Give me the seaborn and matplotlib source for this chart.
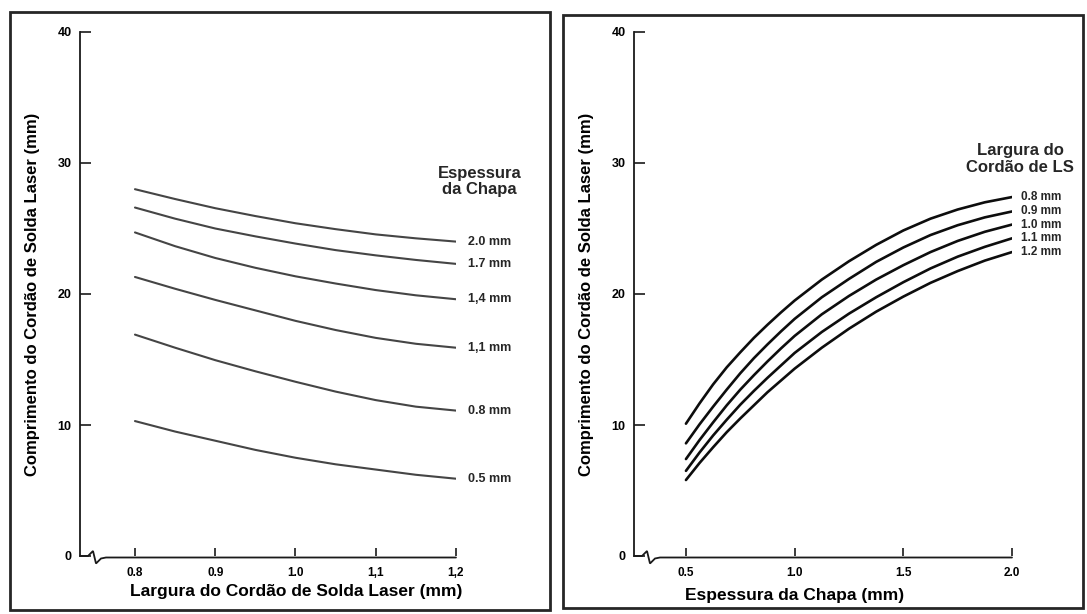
import matplotlib
matplotlib.use("Agg")
import matplotlib.pyplot as plt
import matplotlib.transforms as mtransforms
from matplotlib.lines import Line2D
from matplotlib.patches import Rectangle
import pandas as pd
import seaborn as sns

# ---- Left panel: weld length vs. weld width, one curve per sheet thickness ----
largura = [0.80, 0.85, 0.90, 0.95, 1.00, 1.05, 1.10, 1.15, 1.20]
esp_rotulos = ["2.0 mm", "1.7 mm", "1,4 mm", "1,1 mm", "0.8 mm", "0.5 mm"]
comp_e20 = [28.0, 27.25, 26.55, 25.95, 25.4, 24.95, 24.55, 24.25, 24.0]
comp_e17 = [26.6, 25.75, 25.0, 24.4, 23.85, 23.35, 22.95, 22.6, 22.3]
comp_e14 = [24.7, 23.65, 22.75, 22.0, 21.35, 20.8, 20.3, 19.9, 19.6]
comp_e11 = [21.3, 20.4, 19.55, 18.75, 17.95, 17.25, 16.65, 16.2, 15.9]
comp_e08 = [16.9, 15.9, 14.95, 14.1, 13.3, 12.55, 11.9, 11.4, 11.1]
comp_e05 = [10.3, 9.5, 8.8, 8.1, 7.5, 7.0, 6.6, 6.2, 5.9]
x_ticks_esq = [0.8, 0.9, 1.0, 1.1, 1.2]
x_ticklabels_esq = ["0.8", "0.9", "1.0", "1,1", "1,2"]

# ---- Right panel: weld length vs. sheet thickness, one curve per weld width ----
espessura = [0.5, 0.5625, 0.625, 0.6875, 0.75, 0.8125, 0.875, 0.9375, 1.0,
             1.125, 1.25, 1.375, 1.5, 1.625, 1.75, 1.875, 2.0]
larg_rotulos = ["0.8 mm", "0.9 mm", "1.0 mm", "1.1 mm", "1.2 mm"]
comp_w08 = [10.1, 11.65, 13.1, 14.4, 15.55, 16.65, 17.65, 18.6, 19.5,
            21.1, 22.5, 23.75, 24.85, 25.75, 26.45, 27.0, 27.4]
comp_w09 = [8.6, 10.05, 11.4, 12.7, 13.95, 15.1, 16.15, 17.15, 18.1,
            19.75, 21.15, 22.45, 23.55, 24.5, 25.25, 25.85, 26.3]
comp_w10 = [7.4, 8.85, 10.2, 11.5, 12.7, 13.8, 14.85, 15.85, 16.8,
            18.45, 19.85, 21.1, 22.2, 23.2, 24.05, 24.75, 25.3]
comp_w11 = [6.5, 7.9, 9.2, 10.4, 11.55, 12.6, 13.6, 14.55, 15.5,
            17.1, 18.5, 19.75, 20.9, 21.95, 22.85, 23.6, 24.25]
comp_w12 = [5.8, 7.1, 8.3, 9.45, 10.5, 11.5, 12.5, 13.4, 14.3,
            15.9, 17.35, 18.65, 19.8, 20.85, 21.75, 22.55, 23.2]
x_ticks_dir = [0.5, 1.0, 1.5, 2.0]
x_ticklabels_dir = ["0.5", "1.0", "1.5", "2.0"]

y_ticks = [0, 10, 20, 30, 40]

df_esq = pd.DataFrame({
    "largura": largura * 6,
    "comprimento": comp_e20 + comp_e17 + comp_e14 + comp_e11 + comp_e08 + comp_e05,
    "espessura": [r for r in esp_rotulos for _ in largura],
})
df_dir = pd.DataFrame({
    "espessura": espessura * 5,
    "comprimento": comp_w08 + comp_w09 + comp_w10 + comp_w11 + comp_w12,
    "largura": [r for r in larg_rotulos for _ in espessura],
})

sns.set_style("white")
plt.rcParams["font.family"] = ["Liberation Sans", "DejaVu Sans"]
plt.rcParams["font.weight"] = "bold"
plt.rcParams["axes.labelweight"] = "bold"

W, H = 1087, 614
fig = plt.figure(figsize=(W / 100, H / 100), dpi=100)
ax1 = fig.add_axes([80 / W, 58 / H, 376 / W, 524 / H])
ax2 = fig.add_axes([634 / W, 58 / H, 378 / W, 524 / H])

ink = "#1a1a1a"

sns.lineplot(data=df_esq, x="largura", y="comprimento", hue="espessura",
             palette={r: "#454545" for r in esp_rotulos}, legend=False,
             linewidth=1.5, ax=ax1)
sns.lineplot(data=df_dir, x="espessura", y="comprimento", hue="largura",
             palette={r: "#0d0d0d" for r in larg_rotulos}, legend=False,
             linewidth=1.9, ax=ax2)

ax1.set_xlim(0.7315, 1.2)
ax2.set_xlim(0.261, 2.0)
for ax in (ax1, ax2):
    ax.set_ylim(0, 40)
    ax.set_yticks(y_ticks)
    ax.set_yticklabels([str(v) for v in y_ticks])
    for s in ("top", "right", "bottom"):
        ax.spines[s].set_visible(False)
    ax.spines["left"].set_color(ink)
    ax.spines["left"].set_linewidth(1.3)
    ax.tick_params(axis="y", which="major", left=True, direction="in", length=8,
                   width=1.2, color=ink, pad=6, labelsize=9, labelcolor="black")
    ax.tick_params(axis="x", which="major", bottom=True, direction="in", length=6,
                   width=1.2, color=ink, pad=8, labelsize=8.5, labelcolor="black")
    ax.set_ylabel("Comprimento do Cordão de Solda Laser (mm)", fontsize=12,
                  fontweight="bold", color="black")
    ax.yaxis.set_label_coords(-0.106, 0.5)

ax1.set_xticks(x_ticks_esq)
ax1.set_xticklabels(x_ticklabels_esq)
ax2.set_xticks(x_ticks_dir)
ax2.set_xticklabels(x_ticklabels_dir)

ax1.set_xlabel("Largura do Cordão de Solda Laser (mm)", fontsize=12.5,
               fontweight="bold", color="black")
ax1.xaxis.set_label_coords(0.576, -0.053)
ax2.set_xlabel("Espessura da Chapa (mm)", fontsize=12.5, fontweight="bold",
               color="black")
ax2.xaxis.set_label_coords(0.425, -0.061)

# Curve labels at the right end of each curve
for rot, ys in zip(esp_rotulos, [comp_e20, comp_e17, comp_e14, comp_e11, comp_e08, comp_e05]):
    ax1.annotate(rot, xy=(largura[-1], ys[-1]), xytext=(8.5, 0),
                 textcoords="offset points", va="center", ha="left",
                 fontsize=9, fontweight="bold", annotation_clip=False)
for rot, ys in zip(larg_rotulos, [comp_w08, comp_w09, comp_w10, comp_w11, comp_w12]):
    ax2.annotate(rot, xy=(espessura[-1], ys[-1]), xytext=(6.5, 0),
                 textcoords="offset points", va="center", ha="left",
                 fontsize=8.5, fontweight="bold", annotation_clip=False)

ax1.text(1.229, 28.6, "Espessura\nda Chapa", ha="center", va="center",
         fontsize=12, fontweight="bold", linespacing=1.1, clip_on=False)
ax2.text(2.037, 30.3, "Largura do\nCordão de LS", ha="center", va="center",
         fontsize=12, fontweight="bold", linespacing=1.1, clip_on=False)

# Horizontal axis lines with the scale-break symbol near the origin
for ax in (ax1, ax2):
    x0, y0 = ax.transAxes.transform((0, 0))
    x1, _ = ax.transAxes.transform((1, 0))
    dx = [0, 8, 13, 16, 21, 26]
    dy = [0, 0, 5, -7.5, -2.5, -1.5]
    xs = [x0 + d for d in dx] + [x1]
    ys = [y0 + d for d in dy] + [y0 - 1.5]
    fig.add_artist(Line2D(xs, ys, transform=mtransforms.IdentityTransform(),
                          color=ink, linewidth=1.3, solid_joinstyle="miter"))

# Panel frames
for (l, t, r, b) in [(10, 12, 550, 610), (563, 15, 1083, 608)]:
    fig.add_artist(Rectangle((l / W, 1 - b / H), (r - l) / W, (b - t) / H,
                             transform=fig.transFigure, fill=False,
                             edgecolor="#262626", linewidth=2.0))

fig.savefig("out.png", dpi=100)
